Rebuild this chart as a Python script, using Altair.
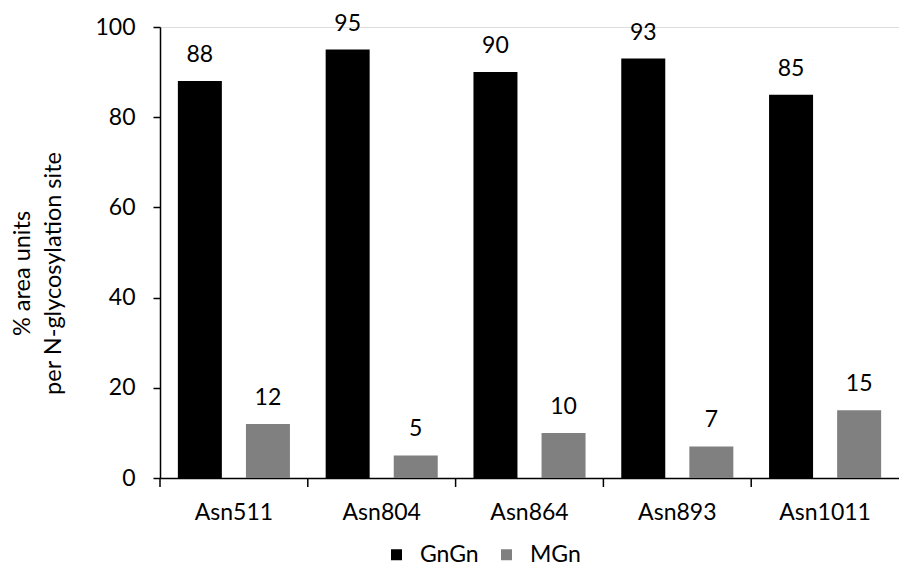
import altair as alt
import pandas as pd

sites = ["Asn511", "Asn804", "Asn864", "Asn893", "Asn1011"]
gngn = [88, 95, 90, 93, 85]
mgn = [12, 5, 10, 7, 15]
series = ["GnGn", "MGn"]
colors = ["#000000", "#808080"]

rows = []
for s, a, b in zip(sites, gngn, mgn):
    rows.append({"site": s, "glycan": "GnGn", "value": a})
    rows.append({"site": s, "glycan": "MGn", "value": b})
df = pd.DataFrame(rows)

FONT = "Lato"
FS = 23
W, H = 739, 451

x_enc = alt.X(
    "site:N",
    sort=sites,
    scale=alt.Scale(paddingInner=0, paddingOuter=0),
    axis=alt.Axis(
        title=None, labelAngle=0, ticks=False, domain=True,
        domainColor="black", domainWidth=1.5,
        labelFont=FONT, labelFontSize=FS, labelColor="black", labelPadding=23,
    ),
)
xoff = alt.XOffset(
    "glycan:N", sort=series,
    scale=alt.Scale(paddingInner=0.353, paddingOuter=0.262),
)
y_enc = alt.Y(
    "value:Q",
    scale=alt.Scale(domain=[0, 100], nice=False),
    axis=alt.Axis(
        values=[0, 20, 40, 60, 80, 100], grid=False,
        domainColor="black", domainWidth=1.5,
        tickColor="black", tickWidth=1.5, tickSize=7,
        labelFont=FONT, labelFontSize=FS, labelColor="black", labelPadding=18,
        title=["% area units", "per N-glycosylation site"],
        titleFont=FONT, titleFontSize=23.5, titleFontWeight="normal",
        titleColor="black", titleAngle=-90, titleAlign="center",
        titleBaseline="middle", titleLineHeight=31,
        titleX=-138, titleY=246,
    ),
)
color_enc = alt.Color(
    "glycan:N", sort=series,
    scale=alt.Scale(domain=series, range=colors),
    legend=alt.Legend(
        title=None, orient="none", direction="horizontal",
        legendX=225, legendY=516,
        symbolType="square", symbolSize=121, symbolStrokeWidth=0,
        labelFont=FONT, labelFontSize=FS, labelColor="black",
        labelOffset=12, columnPadding=16,
    ),
)

base = alt.Chart(df)

bars = base.mark_bar(size=44).encode(x=x_enc, xOffset=xoff, y=y_enc, color=color_enc)

labels = base.mark_text(
    font=FONT, fontSize=FS, color="black", baseline="alphabetic", dy=-19
).encode(x=x_enc, xOffset=xoff, y=y_enc, text="value:Q")

# category separator ticks below the x axis
sep = pd.DataFrame({"site": sites})
ticks = alt.Chart(sep).mark_rule(color="black", strokeWidth=1.5).encode(
    x=alt.X("site:N", sort=sites, bandPosition=0),
    y=alt.value(H),
    y2=alt.value(H + 9),
)

chart = (
    alt.layer(bars, labels, ticks)
    .properties(
        width=W, height=H,
        autosize=alt.AutoSizeParams(type="none"),
        padding={"left": 160, "top": 27, "right": 0, "bottom": 90},
    )
    .configure_view(stroke=None)
    .configure(background="white")
)

chart.save("out.html", embed_options={"renderer": "svg", "actions": False})
